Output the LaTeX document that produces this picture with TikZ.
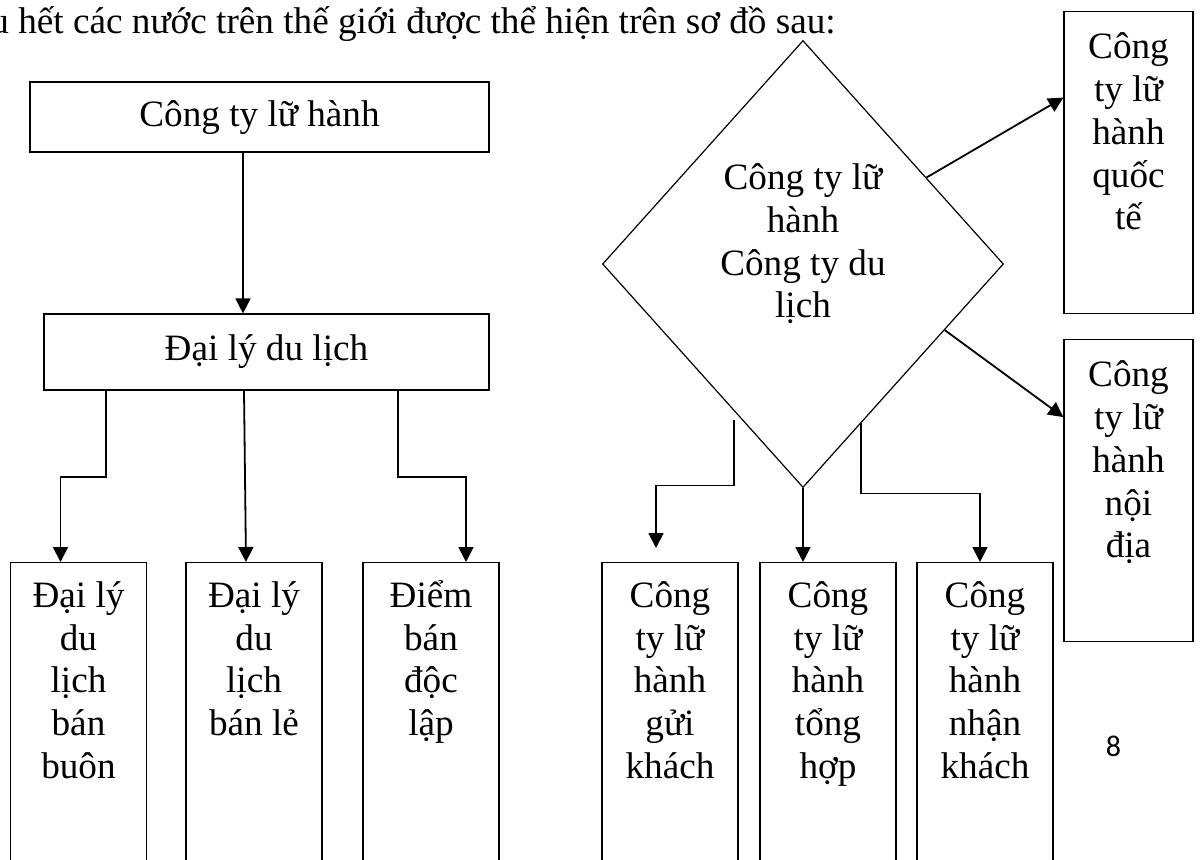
\documentclass[tikz,border=0pt]{standalone}
\usepackage{fontspec}
\setmainfont{Liberation Serif}
\newfontfamily\pagefont{Carlito}
\usetikzlibrary{shapes.geometric, arrows.meta, positioning, calc}

\begin{document}
\begin{tikzpicture}[
  x=0.5pt, y=-0.5pt,
  every node/.style={font=\fontsize{18.6pt}{21.4pt}\selectfont},
  wide/.style={draw, line width=0.6pt, inner sep=0pt,
               text height=14pt, text depth=4.5pt},
  tall/.style={draw, line width=0.6pt, inner sep=0pt, anchor=north,
               align=flush center, text width=68pt, text height=22.3pt, text depth=137.7pt},
  side/.style={tall, text width=64.5pt, text height=23.5pt, text depth=127.5pt},
  hub/.style={draw, diamond, line width=0.6pt, inner sep=0pt,
              minimum width=200.5pt, minimum height=223.5pt,
              align=flush center, text width=90pt, text height=12pt, text depth=86.5pt},
  arrow/.style={-{Triangle[length=7.5pt, width=7.5pt]}, line width=0.9pt}
]
\useasboundingbox (0,0) rectangle (1201,859);
\clip (0,0) rectangle (1201,859);

% Heading
\node[anchor=base west, inner sep=0pt] (tieude) at (-10,33)
  {u hết các nước trên thế giới được thể hiện trên sơ đồ sau:};

% Left tree
\node[wide, minimum width=229.5pt, minimum height=35pt] (lh) at (259.5,117) {Công ty lữ hành};
\node[wide, minimum width=222.5pt, minimum height=38pt, text height=13pt, text depth=5pt] (dl) at (266.5,352) {Đại lý du lịch};

\node[tall] (buon) at (78.5,562) {Đại lý\\du\\lịch\\bán\\buôn};
\node[tall] (le) at (254,562) {Đại lý\\du\\lịch\\bán lẻ};
\node[tall] (doclap) at (431,562) {Điểm\\bán\\độc\\lập};

% Right tree
\node[hub] (hub) at (803,264) {Công ty lữ\\hành\\Công ty du\\lịch};

\node[side] (quocte) at (1128.5,11) {Công\\ty lữ\\hành\\quốc\\tế};
\node[side] (noidia) at (1128.5,339) {Công\\ty lữ\\hành\\nội\\địa};

\node[tall] (guikhach) at (670,562) {Công\\ty lữ\\hành\\gửi\\khách};
\node[tall] (tonghop) at (828,562) {Công\\ty lữ\\hành\\tổng\\hợp};
\node[tall] (nhankhach) at (985,562) {Công\\ty lữ\\hành\\nhận\\khách};

% Page number
\node[font=\pagefont\fontsize{15pt}{18pt}\selectfont] (trang) at (1113.5,746.5) {8};

% Arrows - left tree
\draw[arrow] ($(lh.south)+(-16.5,0)$) -- ($(dl.north)+(-23.5,0)$);
\draw[arrow] ($(dl.south)+(-160.5,0)$) -- ++(0,86) -| ($(buon.north)+(-18,0)$);
\draw[arrow] ($(dl.south)+(-22.5,0)$) -- ($(le.north)+(-8,0)$);
\draw[arrow] ($(dl.south)+(131.5,0)$) -- ++(0,86) -| ($(doclap.north)+(35,0)$);

% Arrows - right tree
\draw[arrow] (hub.35) -- ($(quocte.west)+(0,-65)$);
\draw[arrow] (hub.-25) -- ($(noidia.west)+(0,-73.5)$);
\draw[arrow] ([yshift=-4.5pt]hub.245) -- ++(0,65) -| ($(guikhach.north)+(-14,-14)$);
\draw[arrow] (hub.south) -- (hub.south |- tonghop.north);
\draw[arrow] (hub.-70) -- ++(0,70) -| ($(nhankhach.north)+(-5,0)$);

\end{tikzpicture}
\end{document}
